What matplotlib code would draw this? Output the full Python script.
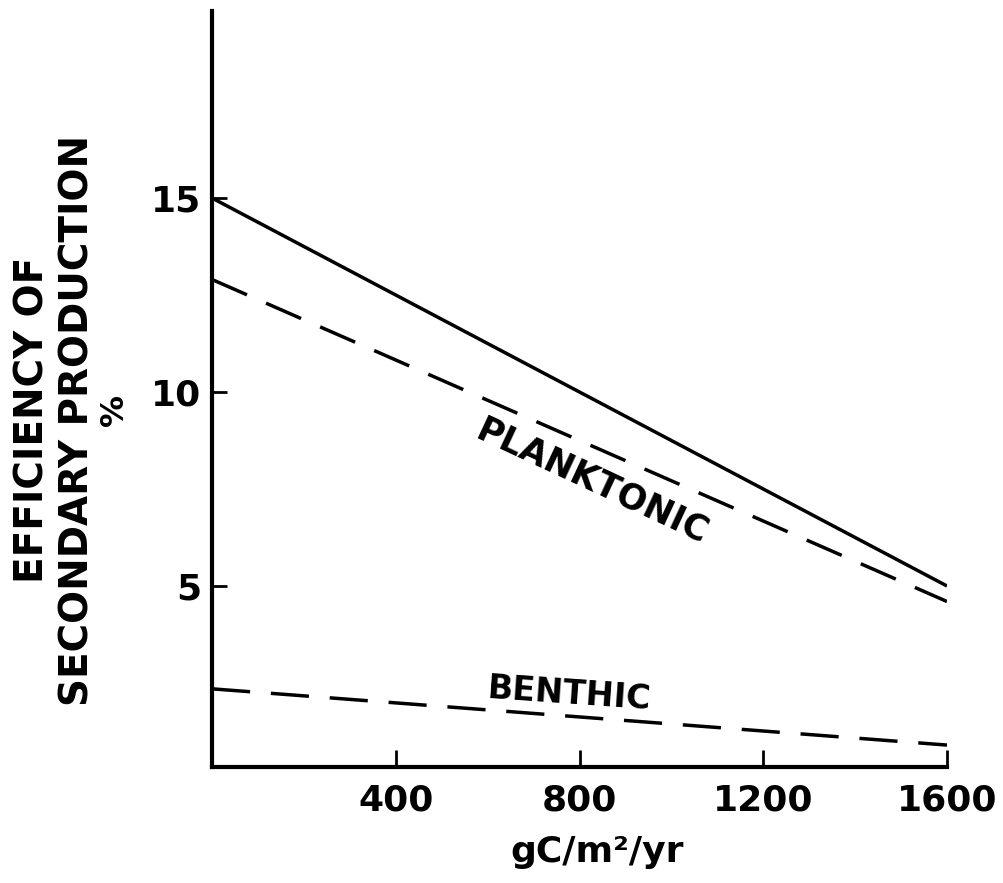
import matplotlib.pyplot as plt
import numpy as np

# データ
x = [0, 1600]
total = [15.0, 5.0]          # 実線
planktonic = [12.9, 4.6]     # 破線 (PLANKTONIC)
benthic = [2.35, 0.9]        # 破線 (BENTHIC)
xticks = [400, 800, 1200, 1600]
yticks = [5, 10, 15]

plt.rcParams['font.family'] = ['DejaVu Sans']
plt.rcParams['font.weight'] = 'bold'

fig = plt.figure(figsize=(10.04, 8.83), dpi=100)
ax = fig.add_axes([212/1004, 1 - 767/883, 735/1004, (767 - 11)/883])

ax.plot(x, total, color='black', lw=2.5, solid_capstyle='butt')
ax.plot(x, planktonic, color='black', lw=2.5, dashes=(11, 6))
ax.plot(x, benthic, color='black', lw=2.5, dashes=(11, 6))

ax.set_xlim(0, 1600)
ax.set_ylim(0.335, 19.82)
ax.set_xticks(xticks)
ax.set_yticks(yticks)

# 軸
for s in ['top', 'right']:
    ax.spines[s].set_visible(False)
for s in ['left', 'bottom']:
    ax.spines[s].set_linewidth(3)
ax.tick_params(axis='both', direction='in', width=2, labelsize=26)
ax.tick_params(axis='x', length=12, pad=12)
ax.tick_params(axis='y', length=11, pad=8)
for lab in ax.get_xticklabels() + ax.get_yticklabels():
    lab.set_fontweight('bold')

# ラベル
ax.text(828, 7.7, 'PLANKTONIC', fontsize=25, fontweight='bold',
        rotation=-25, rotation_mode='anchor', ha='center', va='center')
ax.text(779, 2.2, 'BENTHIC', fontsize=24, fontweight='bold',
        rotation=-4, rotation_mode='anchor', ha='center', va='center')

fig.text(33/1004, 1 - 420/883, 'EFFICIENCY OF', fontsize=28, fontweight='bold',
         rotation=90, ha='center', va='center')
fig.text(78/1004, 1 - 420/883, 'SECONDARY PRODUCTION', fontsize=28, fontweight='bold',
         rotation=90, ha='center', va='center')
fig.text(115/1004, 1 - 410/883, '%', fontsize=23, fontweight='bold',
         rotation=90, ha='center', va='center')
fig.text(597/1004, 1 - 852/883, 'gC/m²/yr', fontsize=26, fontweight='bold',
         ha='center', va='center')

fig.savefig('out.png', dpi=100, facecolor='white')
